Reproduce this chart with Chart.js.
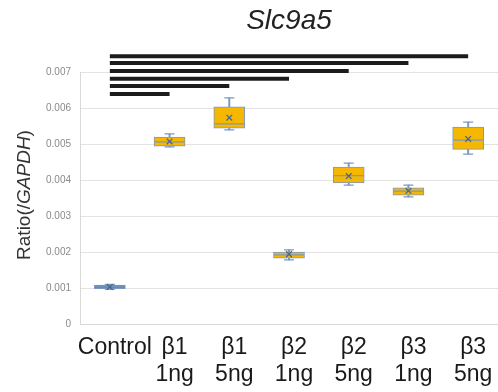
<!DOCTYPE html>
<html lang="en">
<head>
  <meta charset="UTF-8">
  <title>Slc9a5</title>
  <script src="https://cdn.jsdelivr.net/npm/chart.js"></script>
  <style>
    body { margin: 0; background: #fff; }
    #wrap { width: 498px; height: 392px; }
  </style>
</head>
<body>
  <div id="wrap"><canvas id="grafico" width="498" height="392"></canvas></div>

  <script>
    // categories and box-plot values
    const categorias = ['Control', ['β1', '1ng'], ['β1', '5ng'], ['β2', '1ng'], ['β2', '5ng'], ['β3', '1ng'], ['β3', '5ng']];
    const minimo  = [0.00096, 0.00492, 0.00539, 0.00178, 0.00386, 0.00353, 0.00472];
    const q1      = [0.00098, 0.00494, 0.00544, 0.00183, 0.00392, 0.00358, 0.00485];
    const mediana = [0.00103, 0.00506, 0.00556, 0.00192, 0.00412, 0.00369, 0.00511];
    const q3      = [0.00108, 0.00519, 0.00603, 0.00200, 0.00436, 0.00378, 0.00547];
    const maximo  = [0.00110, 0.00528, 0.00628, 0.00206, 0.00447, 0.00386, 0.00561];
    const media   = [0.00103, 0.00507, 0.00573, 0.00194, 0.00411, 0.00370, 0.00514];
    const yTicks  = [0, 0.001, 0.002, 0.003, 0.004, 0.005, 0.006, 0.007];

    // significance bars: from Control to category index, at a given level
    const sigFim   = [6, 5, 4, 3, 2, 1];
    const sigNivel = [0.00744, 0.00725, 0.00703, 0.00681, 0.00661, 0.00639];

    const corCaixa = ['#4f7db3', '#f5b700', '#f5b700', '#f5b700', '#f5b700', '#f5b700', '#f5b700'];
    const corBorda = '#7b98c2';

    const sigDatasets = sigFim.map((fim, k) => ({
      type: 'line',
      data: categorias.map((c, i) => (i === 0 || i === fim) ? sigNivel[k] : null),
      spanGaps: true,
      borderColor: '#1c1c1c',
      borderWidth: 4,
      pointRadius: 0,
      clip: false,
      order: 0
    }));

    const textos = {
      id: 'textos',
      afterDraw(chart) {
        const ctx = chart.ctx;
        const area = chart.chartArea;
        ctx.save();
        // title
        ctx.fillStyle = '#222';
        ctx.font = 'italic 28px "Liberation Sans", Arial, sans-serif';
        ctx.textAlign = 'center';
        ctx.textBaseline = 'middle';
        ctx.fillText('Slc9a5', (area.left + area.right) / 2, 21);

        // y axis title with italic GAPDH
        const partes = [['Ratio(/', ''], ['GAPDH', 'italic '], [')', '']];
        const tam = '19px "Liberation Sans", Arial, sans-serif';
        let total = 0;
        partes.forEach(p => { ctx.font = p[1] + tam; total += ctx.measureText(p[0]).width; });
        ctx.translate(25, 195);
        ctx.rotate(-Math.PI / 2);
        ctx.textAlign = 'left';
        ctx.fillStyle = '#333';
        let x = -total / 2;
        partes.forEach(p => {
          ctx.font = p[1] + tam;
          ctx.fillText(p[0], x, 0);
          x += ctx.measureText(p[0]).width;
        });
        ctx.restore();
      }
    };

    new Chart(document.getElementById('grafico'), {
      data: {
        labels: categorias,
        datasets: [
          ...sigDatasets,
          {
            type: 'line',
            data: media,
            showLine: false,
            pointStyle: 'crossRot',
            pointRadius: 4,
            pointBorderWidth: 1.3,
            borderColor: '#4a6688',
            pointBorderColor: '#4a6688',
            order: 1
          },
          {
            type: 'line',
            data: mediana,
            showLine: false,
            pointStyle: 'line',
            pointRadius: 15,
            pointBorderWidth: 1.3,
            borderColor: corBorda,
            pointBorderColor: corBorda,
            order: 2
          },
          {
            type: 'line',
            data: maximo,
            showLine: false,
            pointStyle: 'line',
            pointRadius: 5,
            pointBorderWidth: 1.3,
            borderColor: corBorda,
            pointBorderColor: corBorda,
            order: 3
          },
          {
            type: 'line',
            data: minimo,
            showLine: false,
            pointStyle: 'line',
            pointRadius: 5,
            pointBorderWidth: 1.3,
            borderColor: corBorda,
            pointBorderColor: corBorda,
            order: 3
          },
          {
            type: 'bar',
            data: q1.map((v, i) => [v, q3[i]]),
            backgroundColor: corCaixa,
            borderColor: corBorda,
            borderWidth: 1,
            borderSkipped: false,
            barThickness: 31,
            grouped: false,
            order: 4
          },
          {
            type: 'bar',
            data: minimo.map((v, i) => [v, maximo[i]]),
            backgroundColor: corBorda,
            barThickness: 1.3,
            grouped: false,
            order: 5
          }
        ]
      },
      options: {
        responsive: false,
        animation: false,
        events: [],
        layout: { autoPadding: false, padding: { top: 72, right: 0, bottom: 0, left: 0 } },
        plugins: {
          legend: { display: false },
          tooltip: { enabled: false }
        },
        scales: {
          x: {
            grid: { display: false, drawTicks: false },
            border: { display: true, color: '#d9d9d9' },
            ticks: {
              color: '#1a1a1a',
              padding: 10,
              labelOffset: 5,
              maxRotation: 0,
              autoSkip: false,
              font: { family: '"Liberation Sans", Arial, sans-serif', size: 23, lineHeight: 1.18 }
            },
            afterFit(scale) {
              scale.height = 68;
              scale.paddingLeft = 0;
              scale.paddingRight = 0;
            }
          },
          y: {
            min: 0,
            max: 0.007,
            afterBuildTicks(scale) { scale.ticks = yTicks.map(v => ({ value: v })); },
            grid: { color: '#e3e3e3', drawTicks: false },
            border: { display: true, color: '#d9d9d9' },
            ticks: {
              color: '#8a8a8a',
              padding: 9,
              font: { family: '"Liberation Sans", Arial, sans-serif', size: 10 },
              callback: v => v === 0 ? '0' : v.toFixed(3)
            },
            afterFit(scale) { scale.width = 80; }
          }
        }
      },
      plugins: [textos]
    });
  </script>
</body>
</html>
